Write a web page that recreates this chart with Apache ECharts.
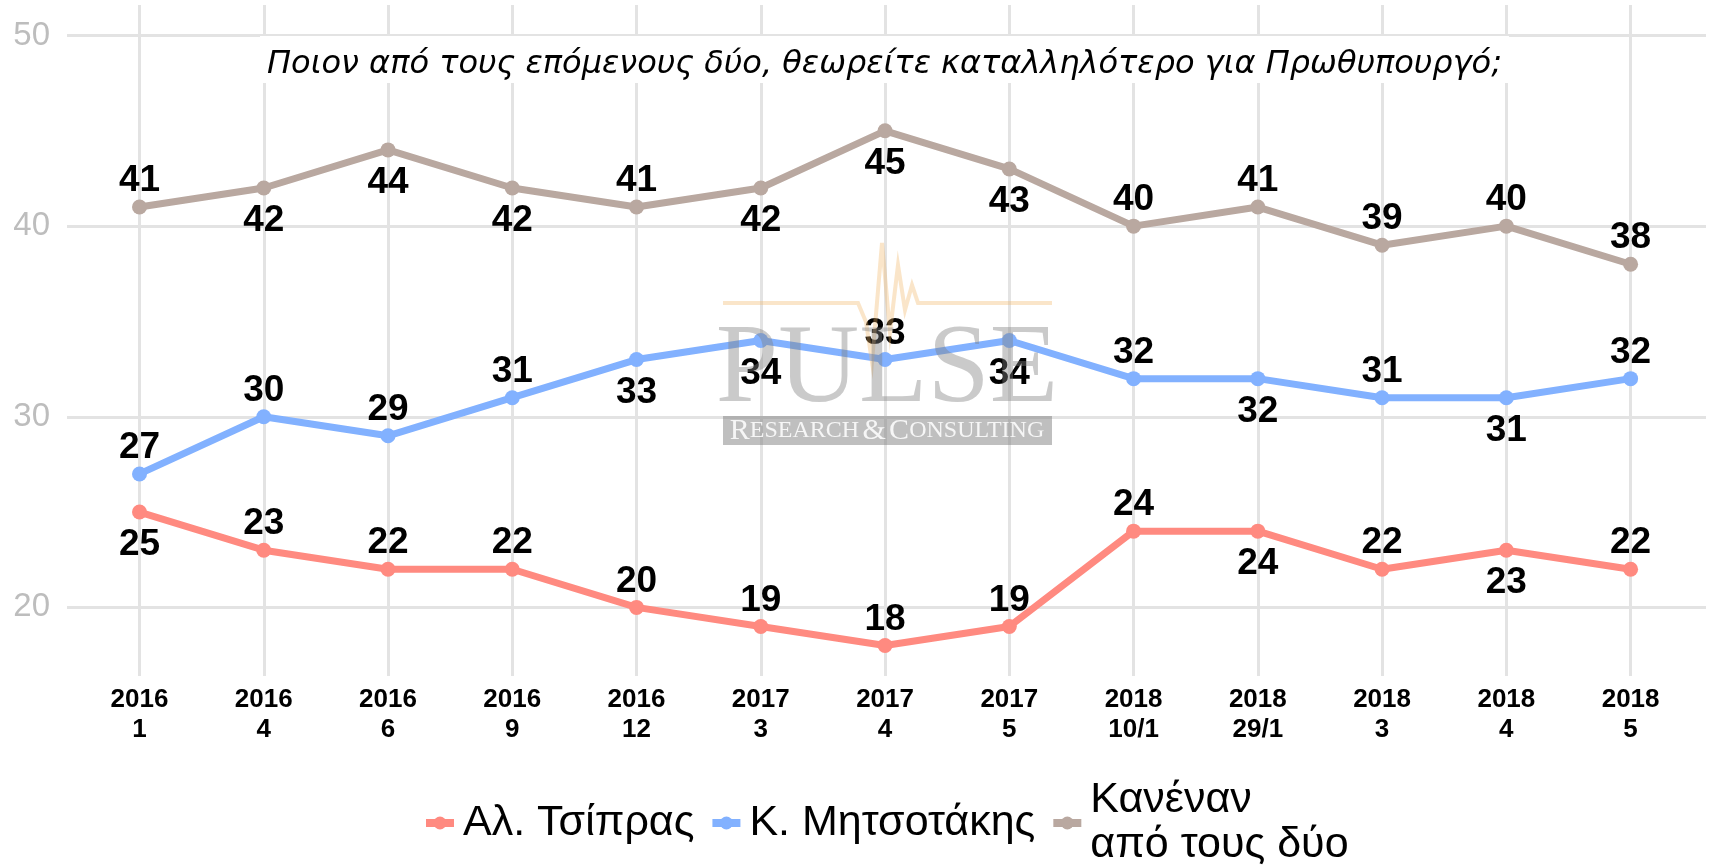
<!DOCTYPE html>
<html>
<head>
<meta charset="utf-8">
<script src="https://cdn.jsdelivr.net/npm/echarts@6/dist/echarts.min.js"></script>
<style>
  html, body { margin: 0; padding: 0; background: #fff; }
  #chart { width: 1709px; height: 868px; }
</style>
</head>
<body>
<div id="chart"></div>
<script>
// survey waves (year / month)
const periods = ['2016\n1', '2016\n4', '2016\n6', '2016\n9', '2016\n12', '2017\n3', '2017\n4',
                 '2017\n5', '2018\n10/1', '2018\n29/1', '2018\n3', '2018\n4', '2018\n5'];

const tsipras    = [25, 23, 22, 22, 20, 19, 18, 19, 24, 24, 22, 23, 22];
const mitsotakis = [27, 30, 29, 31, 33, 34, 33, 34, 32, 32, 31, 31, 32];
const kanenan    = [41, 42, 44, 42, 41, 42, 45, 43, 40, 41, 39, 40, 38];

// where each value label sits (t = above the point, b = below)
const tsiprasLabelAt    = ['b', 't', 't', 't', 't', 't', 't', 't', 't', 'b', 't', 'b', 't'];
const mitsotakisLabelAt = ['t', 't', 't', 't', 'b', 'b', 't', 'b', 't', 'b', 't', 'b', 't'];
const kanenanLabelAt    = ['t', 'b', 'b', 'b', 't', 'b', 'b', 'b', 't', 't', 't', 't', 't'];

const seriesNames = ['Αλ. Τσίπρας', 'Κ. Μητσοτάκης', 'Κανέναν\nαπό τους δύο'];
const colors = ['#ff8a80', '#82b1ff', '#b9a8a0'];

const Y_MIN = 16.4, Y_MAX = 51.6;
const FONT = '"Liberation Sans", Arial, sans-serif';
const GRID_LINE = { color: '#e3e3e3', width: 3 };

const chart = echarts.init(document.getElementById('chart'), null, { renderer: 'canvas' });

function lineSeries(name, values, labelAt, color) {
  return {
    name,
    type: 'line',
    xAxisIndex: 1,
    yAxisIndex: 1,
    symbol: 'circle',
    symbolSize: 15,
    lineStyle: { width: 7, color },
    itemStyle: { color },
    label: { show: true, color: '#000', fontFamily: FONT, fontSize: 37, fontWeight: 'bold' },
    emphasis: { disabled: true },
    data: values.map((v, i) => ({
      value: v,
      label: labelAt[i] === 't'
        ? { position: 'top', distance: 0 }
        : { position: 'bottom', distance: 7 },
    })),
  };
}

// faint "PULSE" watermark in the middle of the plot
const heartbeat = [[723, 303], [858, 303], [866, 322], [872, 362], [882, 243], [890, 332],
                   [898, 265], [905, 310], [912, 285], [918, 303], [1052, 303]];

const option = {
  animation: false,
  backgroundColor: '#fff',
  title: {
    text: 'Ποιον από τους επόμενους δύο, θεωρείτε καταλληλότερο για Πρωθυπουργό;',
    left: 260,
    top: 36,
    padding: [13, 7, 2, 7],
    backgroundColor: '#fff',
    textStyle: { fontFamily: '"DejaVu Sans", sans-serif', fontStyle: 'italic', fontWeight: 'normal', fontSize: 32, lineHeight: 32, color: '#000' },
  },
  legend: {
    data: seriesNames,
    left: 422,
    top: 778,
    padding: 0,
    itemWidth: 28,
    itemHeight: 16,
    itemGap: 14,
    lineStyle: { width: 8 },
    textStyle: { fontFamily: FONT, fontSize: 43, lineHeight: 45, color: '#000', padding: [0, 0, 0, 4] },
  },
  grid: [
    { left: 67, right: 3, top: 5, bottom: 192 },
    { left: 139.5, right: 78.4, top: 5, bottom: 192 },
  ],
  xAxis: [
    { gridIndex: 0, type: 'value', min: 0, max: 1, show: false },
    {
      gridIndex: 1,
      type: 'category',
      data: periods,
      boundaryGap: false,
      axisLine: { show: false },
      axisTick: { show: false },
      axisLabel: { interval: 0, margin: 9, fontFamily: FONT, fontSize: 26, fontWeight: 'bold', lineHeight: 30, color: '#000' },
      splitLine: { show: true, interval: 0, lineStyle: GRID_LINE },
    },
  ],
  yAxis: [
    {
      gridIndex: 0,
      type: 'value',
      min: Y_MIN,
      max: Y_MAX,
      splitNumber: 4,
      axisLine: { show: false },
      axisTick: { show: false },
      axisLabel: {
        margin: 17, fontFamily: FONT, fontSize: 33, color: '#bdbdbd',
        showMinLabel: false, showMaxLabel: false,
        formatter: v => (v % 10 === 0 ? String(v) : ''),
      },
      splitLine: { show: true, showMinLine: false, showMaxLine: false, lineStyle: GRID_LINE },
    },
    { gridIndex: 1, type: 'value', min: Y_MIN, max: Y_MAX, show: false },
  ],
  series: [
    lineSeries(seriesNames[0], tsipras, tsiprasLabelAt, colors[0]),
    lineSeries(seriesNames[1], mitsotakis, mitsotakisLabelAt, colors[1]),
    lineSeries(seriesNames[2], kanenan, kanenanLabelAt, colors[2]),
  ],
  graphic: [
    {
      type: 'polyline', z: 100, silent: true,
      shape: { points: heartbeat },
      style: { stroke: 'rgba(240,180,100,0.35)', lineWidth: 4, fill: null },
    },
    {
      type: 'text', z: 100, silent: true,
      style: {
        x: 887, y: 372, text: 'PULSE', align: 'center', verticalAlign: 'middle',
        font: '112px "Liberation Serif", serif', fill: 'rgba(128,128,128,0.42)',
      },
    },
    {
      type: 'rect', z: 100, silent: true,
      shape: { x: 723, y: 416, width: 329, height: 29 },
      style: { fill: 'rgba(128,128,128,0.5)' },
    },
    {
      type: 'text', z: 101, silent: true,
      style: {
        x: 887, y: 431, align: 'center', verticalAlign: 'middle',
        text: '{b|R}{s|ESEARCH} {b|&} {b|C}{s|ONSULTING}',
        rich: {
          b: { fontFamily: '"Liberation Serif", serif', fontSize: 30, fill: 'rgba(255,255,255,0.85)' },
          s: { fontFamily: '"Liberation Serif", serif', fontSize: 24, fill: 'rgba(255,255,255,0.85)' },
        },
      },
    },
  ],
};

chart.setOption(option);
</script>
</body>
</html>
